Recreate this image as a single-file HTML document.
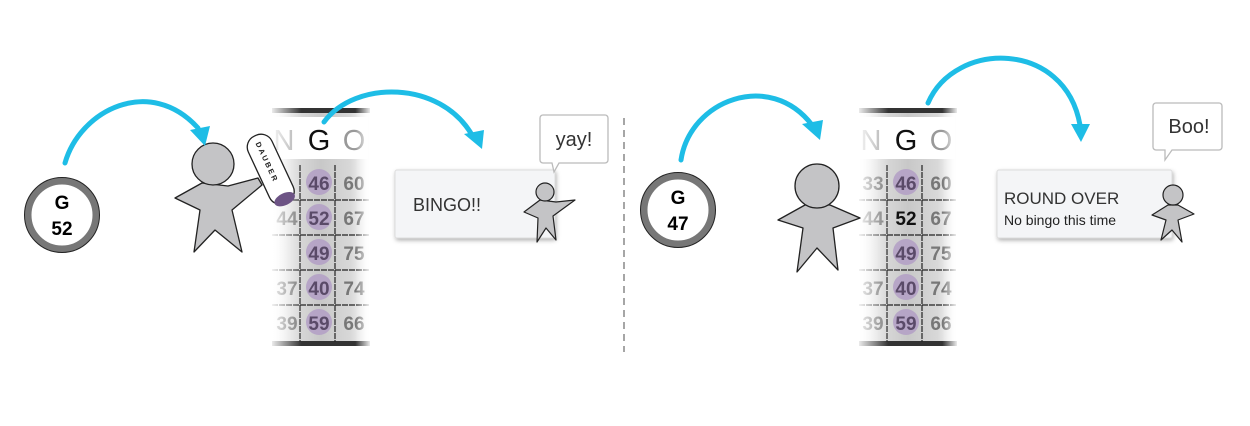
<!DOCTYPE html>
<html><head><style>
body{margin:0;background:#fff;}
svg{display:block;font-family:"Liberation Sans",sans-serif;}
</style></head><body>
<svg width="1250" height="426" viewBox="0 0 1250 426" xmlns="http://www.w3.org/2000/svg">
<defs>
<linearGradient id="cg" x1="0" x2="1" y1="0" y2="0">
<stop offset="0" stop-color="#fff"/><stop offset="0.2" stop-color="#ddd"/><stop offset="0.5" stop-color="#c8c8c8"/><stop offset="0.8" stop-color="#d8d8d8"/><stop offset="1" stop-color="#fff"/>
</linearGradient>
<linearGradient id="fade" x1="0" x2="1"><stop offset="0" stop-color="#fff" stop-opacity="0.9"/><stop offset="0.3" stop-color="#fff" stop-opacity="0"/><stop offset="0.85" stop-color="#fff" stop-opacity="0"/><stop offset="1" stop-color="#fff" stop-opacity="0.9"/></linearGradient>
<filter id="sh" x="-20%" y="-20%" width="140%" height="150%"><feDropShadow dx="1" dy="2" stdDeviation="2" flood-color="#000" flood-opacity="0.3"/></filter>
<g id="card">
<rect x="0" y="108" width="98" height="238" fill="url(#cg)"/>
<rect x="0" y="108" width="98" height="5" fill="#333"/>
<rect x="0" y="341" width="98" height="5" fill="#333"/>
<rect x="0" y="117" width="96" height="42" fill="#fff"/>
<g font-size="29" text-anchor="middle"><text x="12" y="150" fill="#aaa">N</text><text x="47" y="150" fill="#111">G</text><text x="82" y="150" fill="#999">O</text></g>
<g stroke="#222" stroke-width="1.2" stroke-dasharray="6 1"><line x1="28" y1="165" x2="28" y2="342"/><line x1="63" y1="165" x2="63" y2="342"/>
<line x1="0" y1="200" x2="98" y2="200"/><line x1="0" y1="235" x2="98" y2="235"/><line x1="0" y1="270" x2="98" y2="270"/><line x1="0" y1="305" x2="98" y2="305"/></g>
</g>
<rect id="fd" x="0" y="108" width="98" height="238" fill="url(#fade)"/>
</defs>

<line x1="624" y1="118" x2="624" y2="352" stroke="#777" stroke-width="1.3" stroke-dasharray="7 5"/>

<circle cx="62" cy="215" r="34" fill="#fff" stroke="#777" stroke-width="7"/>
<circle cx="62" cy="215" r="37.5" fill="none" stroke="#222" stroke-width="1"/>
<text x="62" y="209" font-size="19" font-weight="bold" text-anchor="middle">G</text>
<text x="62" y="235" font-size="19" font-weight="bold" text-anchor="middle">52</text>
<circle cx="678" cy="210" r="34" fill="#fff" stroke="#777" stroke-width="7"/>
<circle cx="678" cy="210" r="37.5" fill="none" stroke="#222" stroke-width="1"/>
<text x="678" y="204" font-size="19" font-weight="bold" text-anchor="middle">G</text>
<text x="678" y="230" font-size="19" font-weight="bold" text-anchor="middle">47</text>

<use href="#card" x="272"/>
<use href="#card" x="859"/>
<g font-size="19" font-weight="bold" text-anchor="middle">
<g fill="#777"><text x="287" y="225">44</text><text x="287" y="295">37</text><text x="287" y="330">39</text>
<text x="354" y="190">60</text><text x="354" y="225">67</text><text x="354" y="260">75</text><text x="354" y="295">74</text><text x="354" y="330">66</text></g>
<g fill="#b39fc6" opacity="0.85"><circle cx="319" cy="182" r="13"/><circle cx="319" cy="217" r="13"/><circle cx="319" cy="252" r="13"/><circle cx="319" cy="287" r="13"/><circle cx="319" cy="322" r="13"/></g>
<g fill="#5a4a68"><text x="319" y="190">46</text><text x="319" y="225">52</text><text x="319" y="260">49</text><text x="319" y="295">40</text><text x="319" y="330">59</text></g>

<g fill="#777"><text x="873" y="190">33</text><text x="873" y="225">44</text><text x="873" y="295">37</text><text x="873" y="330">39</text>
<text x="941" y="190">60</text><text x="941" y="225">67</text><text x="941" y="260">75</text><text x="941" y="295">74</text><text x="941" y="330">66</text></g>
<g fill="#b39fc6" opacity="0.85"><circle cx="906" cy="182" r="13"/><circle cx="906" cy="252" r="13"/><circle cx="906" cy="287" r="13"/><circle cx="906" cy="322" r="13"/></g>
<g fill="#5a4a68"><text x="906" y="190">46</text><text x="906" y="260">49</text><text x="906" y="295">40</text><text x="906" y="330">59</text></g>
<text x="906" y="225" fill="#111">52</text>
</g>
<use href="#fd" x="272"/>
<use href="#fd" x="859"/>

<!-- person 1 -->
<g fill="#c4c4c6" stroke="#222" stroke-width="1.3" stroke-linejoin="round">
<path d="M202 183 L175 198 L200 210 L194 252 L215 230 L242 252 L232 210 L262 185 L258 178 L228 186 Z"/>
<circle cx="213" cy="164" r="21"/>
</g>
<g transform="translate(272 172) rotate(-25)">
<rect x="-13" y="-40" width="26" height="74" rx="12" fill="#fff" stroke="#222" stroke-width="1.3"/>
<ellipse cx="0" cy="30" rx="11" ry="6" fill="#6d5485"/>
<text transform="rotate(90)" x="-33" y="3" font-size="7.5" font-weight="bold" letter-spacing="2" fill="#222">DAUBER</text>
</g>

<!-- person 2 -->
<g fill="#c4c4c6" stroke="#222" stroke-width="1.3" stroke-linejoin="round">
<path d="M805 205 L778 220 L803 228 L797 272 L817 248 L838 270 L833 228 L860 218 L830 205 Z"/>
<circle cx="817" cy="186" r="22"/>
</g>

<g fill="none" stroke="#1ebde6" stroke-width="5" stroke-linecap="round">
<path d="M65 163 C80 110 150 75 198 128"/>
<path d="M324 122 C355 80 440 80 472 135"/>
<path d="M681 160 C690 100 770 70 812 125"/>
<path d="M928 103 C955 40 1065 40 1080 125"/>
</g>
<g fill="#1ebde6">
<polygon points="190,130 210,126 205,146"/>
<polygon points="464,134 484,130 482,149"/>
<polygon points="802,124 823,120 820,140"/>
<polygon points="1071,124 1090,124 1081,142"/>
</g>

<rect x="395" y="170" width="160" height="68" rx="2" fill="#f4f5f7" stroke="#ddd" filter="url(#sh)"/>
<text x="413" y="211" font-size="18" fill="#333">BINGO!!</text>
<path d="M543 115 H605 a3 3 0 0 1 3 3 V160 a3 3 0 0 1 -3 3 H559 L554 172 L552 163 H543 a3 3 0 0 1 -3 -3 V118 a3 3 0 0 1 3 -3 Z" fill="#fff" stroke="#bbb" stroke-width="1.3"/>
<text x="574" y="146" font-size="20" fill="#333" text-anchor="middle">yay!</text>
<g fill="#c4c4c6" stroke="#222" stroke-width="1.2" stroke-linejoin="round">
<path d="M540 200 L524 212 L538 218 L537 242 L546 228 L556 240 L553 216 L575 200 L556 202 Z"/>
<circle cx="545" cy="192" r="9"/>
</g>

<rect x="997" y="170" width="175" height="68" rx="2" fill="#f4f5f7" stroke="#ddd" filter="url(#sh)"/>
<text x="1004" y="204" font-size="17" fill="#333">ROUND OVER</text>
<text x="1004" y="225" font-size="14" fill="#222">No bingo this time</text>
<path d="M1156 103 H1219 a3 3 0 0 1 3 3 V147 a3 3 0 0 1 -3 3 H1172 L1165 160 L1165 150 H1156 a3 3 0 0 1 -3 -3 V106 a3 3 0 0 1 3 -3 Z" fill="#fff" stroke="#bbb" stroke-width="1.3"/>
<text x="1189" y="133" font-size="20" fill="#333" text-anchor="middle">Boo!</text>
<g fill="#c4c4c6" stroke="#222" stroke-width="1.2" stroke-linejoin="round">
<path d="M1168 205 L1152 215 L1166 220 L1161 240 L1172 230 L1182 242 L1178 220 L1194 214 L1178 205 Z"/>
<circle cx="1173" cy="195" r="10"/>
</g>
</svg>
</body></html>
